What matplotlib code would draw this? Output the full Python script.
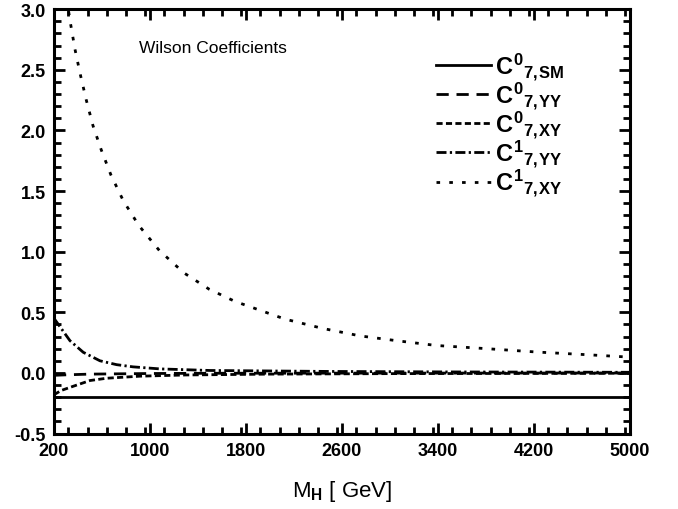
import numpy as np
import matplotlib
matplotlib.use("Agg")
import matplotlib.pyplot as plt
from matplotlib.ticker import MultipleLocator, FixedLocator, FormatStrFormatter

plt.rcParams['font.family'] = ['Liberation Sans', 'DejaVu Sans']
plt.rcParams['axes.unicode_minus'] = False
plt.rcParams['mathtext.fontset'] = 'custom'
plt.rcParams['mathtext.rm'] = 'Liberation Sans:bold'
plt.rcParams['mathtext.it'] = 'Liberation Sans:bold'
plt.rcParams['mathtext.bf'] = 'Liberation Sans:bold'

# charged Higgs mass [GeV] and the Wilson coefficients C7
m_sm = [200, 5000]
c7_sm = [-0.20, -0.20]

m_yy0 = [200, 300, 500, 800, 1000, 1500, 2500, 5000]
c7_yy0 = [-0.020, -0.016, -0.010, -0.007, -0.005, -0.003, -0.002, -0.001]

m_xy0 = [200, 260, 361, 500, 639, 917, 1300, 2000, 3000, 5000]
c7_xy0 = [-0.180, -0.145, -0.110, -0.063, -0.044, -0.027, -0.017, -0.010, -0.006, -0.003]

m_yy1 = [200, 222, 333, 444, 583, 722, 858, 1083, 1500, 2500, 3500, 5000]
c7_yy1 = [0.45, 0.42, 0.266, 0.17, 0.10, 0.068, 0.050, 0.033, 0.020, 0.012, 0.008, 0.005]

m_xy1 = [200, 250, 300, 339, 375, 419, 469, 525, 594, 675, 778, 908, 1078,
         1283, 1494, 1708, 2125, 2439, 2753, 3069, 3389, 3806, 4228, 4644, 5000]
c7_xy1 = [4.30, 3.60, 3.12, 2.876, 2.67, 2.464, 2.252, 2.04, 1.84, 1.632, 1.42, 1.215, 1.01,
          0.825, 0.69, 0.59, 0.444, 0.367, 0.305, 0.264, 0.226, 0.20, 0.172, 0.15, 0.13]

labels = [r'$C^{0}{}_{7,\!SM}$', r'$C^{0}{}_{7,\!YY}$', r'$C^{0}{}_{7,\!XY}$',
          r'$C^{1}{}_{7,\!YY}$', r'$C^{1}{}_{7,\!XY}$']

fig = plt.figure(figsize=(6.78, 5.10), dpi=100)
ax = fig.add_axes([0.0796, 0.148, 0.8494, 0.832])

lw = 2.0
ax.plot(m_sm, c7_sm, color='black', lw=lw, linestyle='-', label=labels[0])
ax.plot(m_yy0, c7_yy0, color='black', lw=lw, linestyle=(0, (4.4, 2.8)), label=labels[1])
ax.plot(m_xy0, c7_xy0, color='black', lw=lw, linestyle=(0, (2.2, 1.2)), label=labels[2])
ax.plot(m_yy1, c7_yy1, color='black', lw=lw, linestyle=(0, (3.6, 1.2, 0.8, 1.2)), label=labels[3])
ax.plot(m_xy1, c7_xy1, color='black', lw=lw, linestyle=(0, (1.3, 3.3)), label=labels[4])

ax.set_xlim(200, 5000)
ax.set_ylim(-0.5, 3.0)
ax.xaxis.set_major_locator(FixedLocator([200, 1000, 1800, 2600, 3400, 4200, 5000]))
ax.xaxis.set_minor_locator(MultipleLocator(160))
ax.yaxis.set_major_locator(MultipleLocator(0.5))
ax.yaxis.set_minor_locator(MultipleLocator(0.1))
ax.yaxis.set_major_formatter(FormatStrFormatter('%.1f'))

for s in ax.spines.values():
    s.set_linewidth(2.2)
ax.tick_params(which='both', direction='in', top=True, right=True, width=2.0)
ax.tick_params(which='major', length=8, pad=6)
ax.tick_params(which='minor', length=5)
for t in ax.get_xticklabels() + ax.get_yticklabels():
    t.set_fontweight('bold')
    t.set_fontsize(13)

ax.set_xlabel('M$_{H}$ [ GeV]', fontsize=16, labelpad=14)
ax.text(0.147, 0.898, 'Wilson Coefficients', transform=ax.transAxes, fontsize=12.5)

ax.legend(loc='upper left', bbox_to_anchor=(0.629, 0.918), bbox_transform=fig.transFigure,
          frameon=False, fontsize=17, handlelength=2.35, labelspacing=-0.09,
          handletextpad=0.15, borderaxespad=0)

fig.savefig('out.png', dpi=100)
